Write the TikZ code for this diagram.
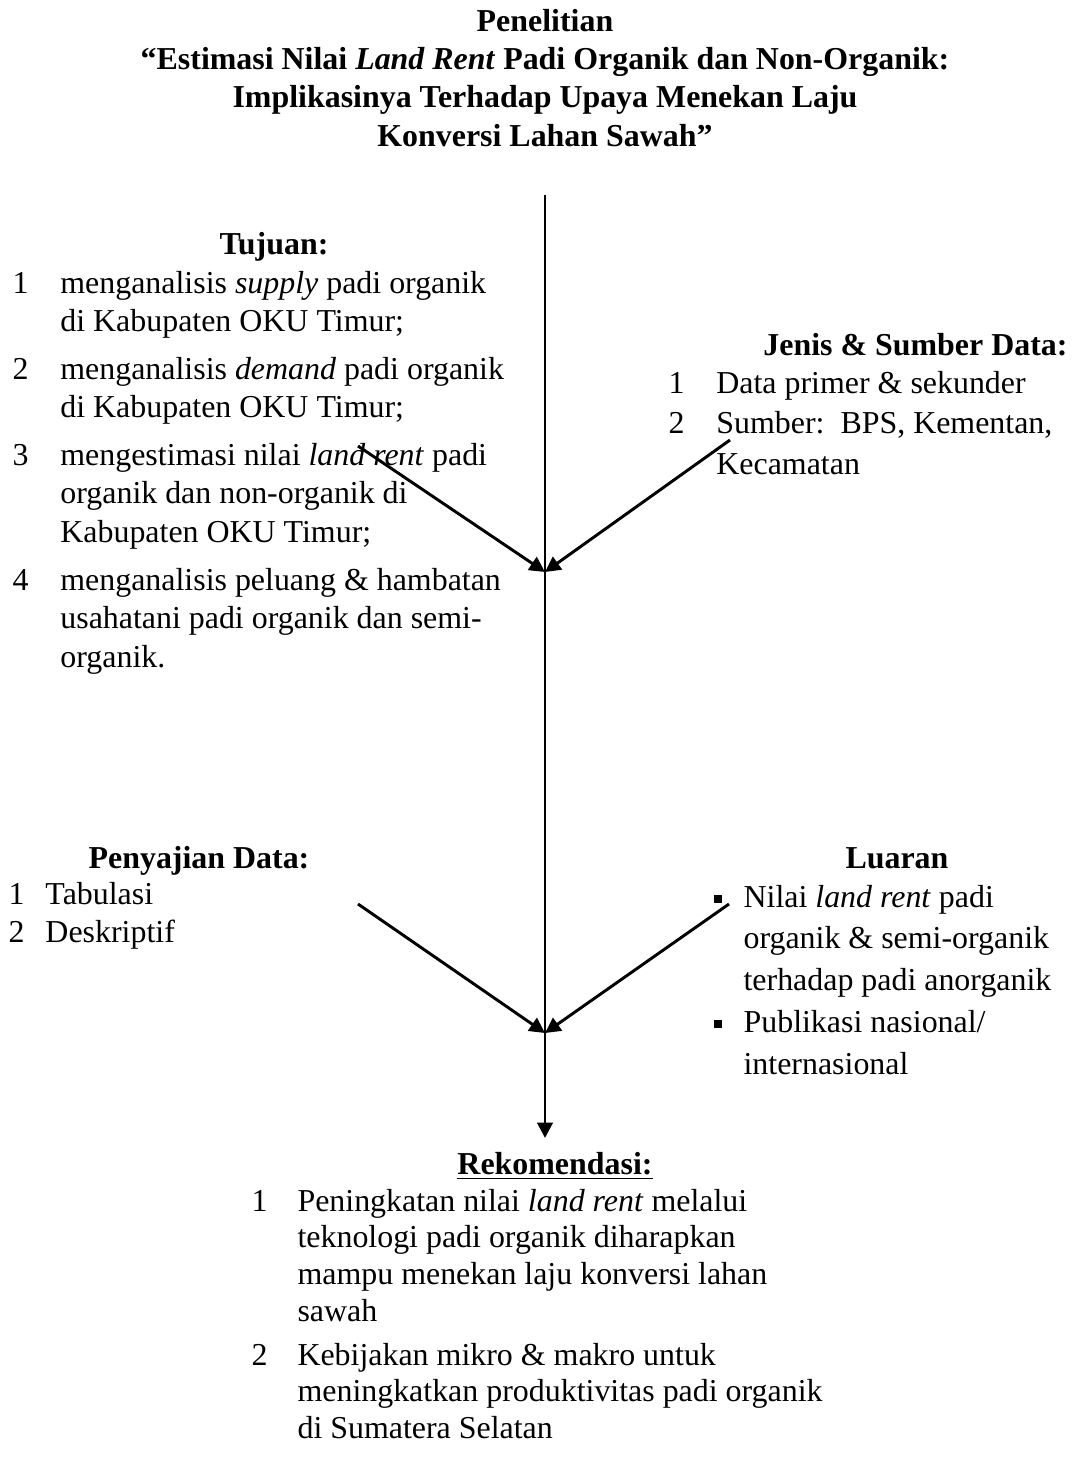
\documentclass[tikz,border=0pt]{standalone}
\usepackage{fontspec}
\setmainfont{Liberation Serif}
\usetikzlibrary{arrows.meta}
\newcommand{\sqbullet}{\raisebox{1.6pt}{\rule{3.1pt}{3.1pt}}}

\begin{document}
\begin{tikzpicture}[x=0.376pt, y=-0.376pt,
  font=\fontsize{12}{14.5}\selectfont,
  blockhead/.style={font=\fontsize{12}{14.3}\selectfont\bfseries, inner sep=0pt, anchor=base},
  itemlist/.style={inner sep=0pt, anchor=base west},
  flow/.style={line width=1.1pt, -{Triangle[length=5.8pt, width=5.8pt]}}]
  \useasboundingbox (0,0) rectangle (1075,1458);

  \node[blockhead, align=center] (judul) at (545,146)
    {Penelitian\\
     ``Estimasi Nilai \textit{Land Rent} Padi Organik dan Non-Organik:\\
     Implikasinya Terhadap Upaya Menekan Laju\\
     Konversi Lahan Sawah''};

  \node[blockhead] (tujuan head) at (274,254) {Tujuan:};
  \node[itemlist, font=\fontsize{12}{14.5}\selectfont] (tujuan) at (12,293) {%
    \begin{tabular}[t]{@{}p{18pt}@{}l@{}}
    1 & menganalisis \textit{supply} padi organik\\
      & di Kabupaten OKU Timur;\\[3.4pt]
    2 & menganalisis \textit{demand} padi organik\\
      & di Kabupaten OKU Timur;\\[3.4pt]
    3 & mengestimasi nilai \textit{land rent} padi\\
      & organik dan non-organik di\\
      & Kabupaten OKU Timur;\\[3.4pt]
    4 & menganalisis peluang \& hambatan\\
      & usahatani padi organik dan semi-\\
      & organik.
    \end{tabular}};

  \node[blockhead, anchor=base east] (data head) at (1068,355) {Jenis \& Sumber Data:};
  \node[itemlist, font=\fontsize{12}{15.3}\selectfont] (data) at (668,393) {%
    \begin{tabular}[t]{@{}p{18pt}@{}l@{}}
    1 & Data primer \& sekunder\\
    2 & Sumber:\ \ BPS, Kementan,\\
      & Kecamatan
    \end{tabular}};

  \node[blockhead] (sajian head) at (199,868) {Penyajian Data:};
  \node[itemlist, font=\fontsize{12}{14.4}\selectfont] (sajian) at (8,904) {%
    \begin{tabular}[t]{@{}p{13.9pt}@{}l@{}}
    1 & Tabulasi\\
    2 & Deskriptif
    \end{tabular}};

  \node[blockhead] (luaran head) at (897,868) {Luaran};
  \node[itemlist, font=\fontsize{12}{15.7}\selectfont] (luaran) at (713,907) {%
    \begin{tabular}[t]{@{}p{11.3pt}@{}l@{}}
    \sqbullet & Nilai \textit{land rent} padi\\
              & organik \& semi-organik\\
              & terhadap padi anorganik\\
    \sqbullet & Publikasi nasional/\\
              & internasional
    \end{tabular}};

  \node[blockhead] (rekom head) at (555,1174) {\underline{Rekomendasi:}};
  \node[itemlist, font=\fontsize{12}{13.9}\selectfont] (rekom) at (251,1211) {%
    \begin{tabular}[t]{@{}p{17.3pt}@{}l@{}}
    1 & Peningkatan nilai \textit{land rent} melalui\\
      & teknologi padi organik diharapkan\\
      & mampu menekan laju konversi lahan\\
      & sawah\\[2.3pt]
    2 & Kebijakan mikro \& makro untuk\\
      & meningkatkan produktivitas padi organik\\
      & di Sumatera Selatan
    \end{tabular}};

  \coordinate (axis top) at (545,195);
  \coordinate (meet a) at (545,572);
  \coordinate (meet b) at (545,1033);
  \coordinate (axis end) at (545,1138);
  \coordinate (tujuan in) at (358,446);
  \coordinate (data in) at (730,440);
  \coordinate (sajian in) at (358,904);
  \coordinate (luaran in) at (729,904);

  \draw[flow] (axis top) -- (axis end);
  \draw[flow] (tujuan in) -- (meet a);
  \draw[flow] (data in) -- (meet a);
  \draw[flow] (sajian in) -- (meet b);
  \draw[flow] (luaran in) -- (meet b);
\end{tikzpicture}
\end{document}
